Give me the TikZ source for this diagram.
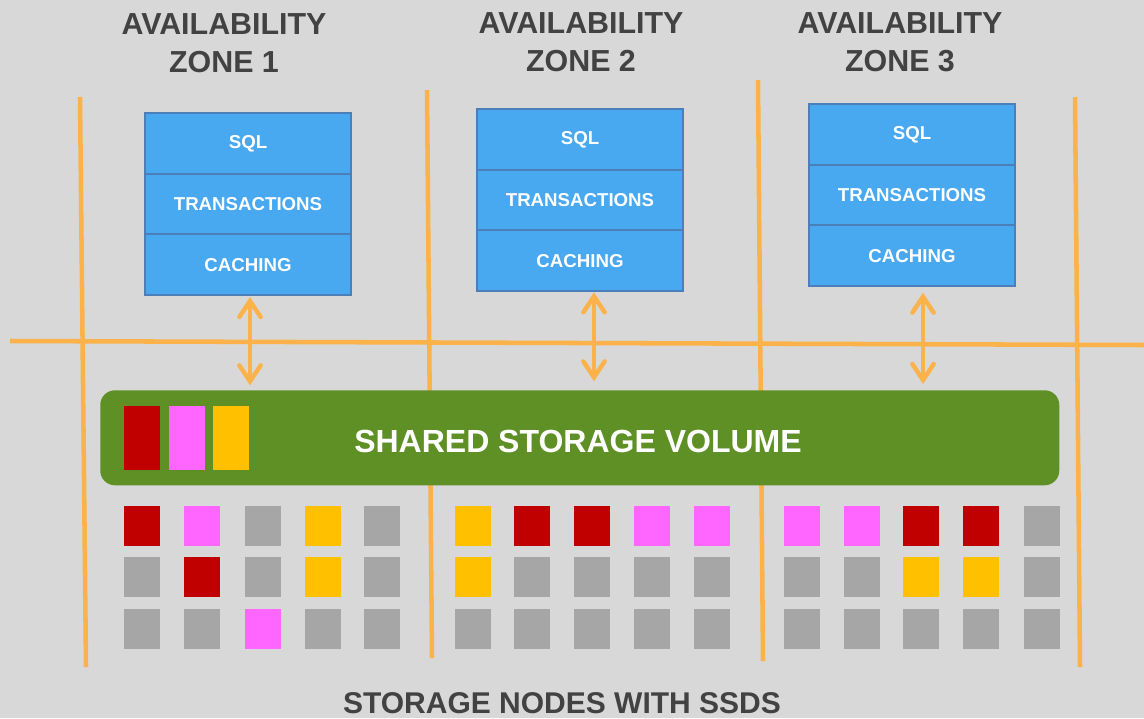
\documentclass[tikz,border=0pt]{standalone}
\usepackage{fontspec}
\setmainfont{Liberation Sans}
\usetikzlibrary{arrows.meta}

\definecolor{bg}{RGB}{216,216,216}
\definecolor{gridorange}{RGB}{251,178,74}
\definecolor{cellfill}{RGB}{72,168,240}
\definecolor{cellline}{RGB}{76,126,186}
\definecolor{volgreen}{RGB}{94,144,38}
\definecolor{headtext}{RGB}{66,66,66}
\definecolor{blkred}{RGB}{192,0,0}
\definecolor{blkpink}{RGB}{255,102,255}
\definecolor{blkyellow}{RGB}{255,192,0}
\definecolor{blkgray}{RGB}{166,166,166}

\tikzset{
  zoneline/.style={draw=gridorange, line width=3.4pt},
  layer/.style={draw=cellline, line width=1.6pt, fill=cellfill,
    minimum width=154.5pt, minimum height=45.5pt, inner sep=0pt, outer sep=0pt,
    anchor=north west, text=white, font=\bfseries\fontsize{14}{16}\selectfont},
  heading/.style={text=headtext, align=center, inner sep=0pt,
    font=\bfseries\fontsize{22.8}{28.5}\selectfont},
  link/.style={draw=gridorange, line width=3.3pt, line cap=round,
    {Straight Barb[length=12pt,width=16pt,line cap=round]}-{Straight Barb[length=12pt,width=16pt,line cap=round]}},
  chip/.style={fill=#1, minimum width=27pt, minimum height=48pt,
    inner sep=0pt, outer sep=0pt, anchor=north west},
}

% one storage block, 36 x 40 px, given colour and top-left corner
\newcommand{\blk}[3]{\fill[#1] (#2,#3) rectangle ++(36,40);}

\begin{document}
\begin{tikzpicture}[x=0.75pt,y=-0.75pt]
  \fill[bg] (0,0) rectangle (1144,718);
  \useasboundingbox (0,0) rectangle (1144,718);

  % zone boundaries
  \draw[zoneline] (10,341) -- (1144,345);
  \draw[zoneline] (80,97) -- (86,667);
  \draw[zoneline] (427,90) -- (432,658);
  \draw[zoneline] (758,80) -- (763,661);
  \draw[zoneline] (1075,97) -- (1080,667);

  % zone titles
  \node[heading] (h1) at (224,43) {AVAILABILITY\\ZONE 1};
  \node[heading] (h2) at (581,42) {AVAILABILITY\\ZONE 2};
  \node[heading] (h3) at (900,42) {AVAILABILITY\\ZONE 3};

  % database engine stacks
  \node[layer] (sql1) at (145,113) {SQL};
  \node[layer] (txn1) at (sql1.south west) {TRANSACTIONS};
  \node[layer] (cache1) at (txn1.south west) {CACHING};

  \node[layer] (sql2) at (477,109) {SQL};
  \node[layer] (txn2) at (sql2.south west) {TRANSACTIONS};
  \node[layer] (cache2) at (txn2.south west) {CACHING};

  \node[layer] (sql3) at (809,104) {SQL};
  \node[layer] (txn3) at (sql3.south west) {TRANSACTIONS};
  \node[layer] (cache3) at (txn3.south west) {CACHING};

  % shared volume
  \node[fill=volgreen, rounded corners=11pt, minimum width=719.25pt,
        minimum height=71.25pt, inner sep=0pt, anchor=north west] (bar) at (100,390) {};
  \node[text=white, anchor=base, inner sep=0pt,
        font=\bfseries\fontsize{24}{28}\selectfont] (vol) at (578,452) {SHARED STORAGE VOLUME};
  \node[chip=blkred] (c1) at (124,406) {};
  \node[chip=blkpink] (c2) at (169,406) {};
  \node[chip=blkyellow] (c3) at (213,406) {};

  % engine <-> volume
  \draw[link, shorten <=1.5pt, shorten >=3.5pt]
    ([xshift=1.5pt]cache1.south) -- ([xshift=1.5pt]cache1.south |- bar.north);
  \draw[link, shorten <=1pt, shorten >=6.5pt]
    ([xshift=10.5pt]cache2.south) -- ([xshift=10.5pt]cache2.south |- bar.north);
  \draw[link, shorten <=5pt, shorten >=4.5pt]
    ([xshift=8.25pt]cache3.south) -- ([xshift=8.25pt]cache3.south |- bar.north);

  % storage nodes, zone 1
  \blk{blkred}{124}{506}  \blk{blkpink}{184}{506} \blk{blkgray}{245}{506} \blk{blkyellow}{305}{506} \blk{blkgray}{364}{506}
  \blk{blkgray}{124}{557} \blk{blkred}{184}{557}  \blk{blkgray}{245}{557} \blk{blkyellow}{305}{557} \blk{blkgray}{364}{557}
  \blk{blkgray}{124}{609} \blk{blkgray}{184}{609} \blk{blkpink}{245}{609} \blk{blkgray}{305}{609}   \blk{blkgray}{364}{609}
  % zone 2
  \blk{blkyellow}{455}{506} \blk{blkred}{514}{506}  \blk{blkred}{574}{506}  \blk{blkpink}{634}{506} \blk{blkpink}{694}{506}
  \blk{blkyellow}{455}{557} \blk{blkgray}{514}{557} \blk{blkgray}{574}{557} \blk{blkgray}{634}{557} \blk{blkgray}{694}{557}
  \blk{blkgray}{455}{609}   \blk{blkgray}{514}{609} \blk{blkgray}{574}{609} \blk{blkgray}{634}{609} \blk{blkgray}{694}{609}
  % zone 3
  \blk{blkpink}{784}{506} \blk{blkpink}{844}{506} \blk{blkred}{903}{506}    \blk{blkred}{963}{506}    \blk{blkgray}{1024}{506}
  \blk{blkgray}{784}{557} \blk{blkgray}{844}{557} \blk{blkyellow}{903}{557} \blk{blkyellow}{963}{557} \blk{blkgray}{1024}{557}
  \blk{blkgray}{784}{609} \blk{blkgray}{844}{609} \blk{blkgray}{903}{609}   \blk{blkgray}{963}{609}   \blk{blkgray}{1024}{609}

  \node[text=headtext, anchor=base, inner sep=0pt,
        font=\bfseries\fontsize{22.5}{27}\selectfont] (foot) at (562,713) {STORAGE NODES WITH SSDS};
\end{tikzpicture}
\end{document}
